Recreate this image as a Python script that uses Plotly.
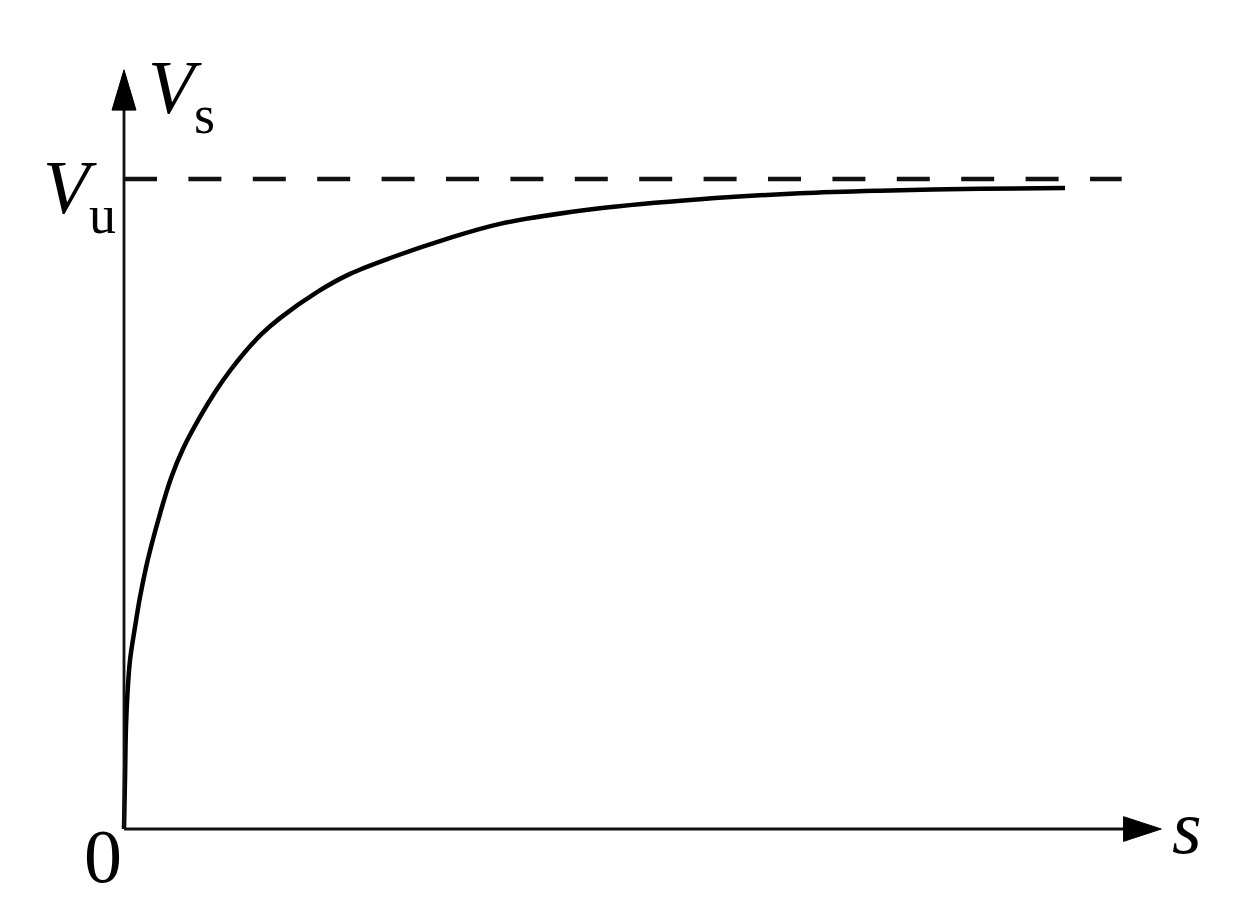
import plotly.graph_objects as go

# Curve V_s(s) (V in units of V_u)
s_values = [0, 0.011, 0.021, 0.037, 0.064, 0.117, 0.17, 0.233, 0.297, 0.382,
            0.499, 0.626, 0.806, 0.965, 1.124, 1.283, 1.463, 1.654, 2.047,
            2.397, 2.853, 3.383, 3.987, 5.048, 6.108, 7.169, 8.017, 9.077, 9.979]
v_values = [0, 0.08, 0.157, 0.209, 0.26, 0.311, 0.357, 0.402, 0.44, 0.485,
            0.54, 0.585, 0.634, 0.672, 0.705, 0.734, 0.762, 0.786, 0.826,
            0.854, 0.88, 0.906, 0.931, 0.955, 0.969, 0.978, 0.982, 0.985, 0.986]

# Asymptote
v_u = 1.0
asymptote_end = 10.58

# Axis extents (arrow tips)
x_axis_end = 11.0
y_axis_end = 1.168

SERIF = "Liberation Serif"
INK = "#111111"


def main():
    fig = go.Figure()

    # asymptote V_u
    fig.add_trace(
        go.Scatter(
            x=[0, asymptote_end],
            y=[v_u, v_u],
            mode="lines",
            line=dict(color=INK, width=4.5, dash="33px,31.4px"),
            hoverinfo="skip",
        )
    )

    # V_s curve
    fig.add_trace(
        go.Scatter(
            x=s_values,
            y=v_values,
            mode="lines",
            line=dict(color="black", width=4.5, shape="spline", smoothing=1.0),
            hoverinfo="skip",
        )
    )

    # axes with arrow heads (sizes in data units)
    ax_len, ax_half = 0.40, 0.019   # x arrow: length along s, half width in V
    ay_len, ay_half = 0.062, 0.127  # y arrow: length along V, half width in s
    axis_line = dict(color=INK, width=2.8)
    fig.add_shape(type="line", x0=0, y0=0, x1=x_axis_end - ax_len, y1=0, line=axis_line)
    fig.add_shape(type="line", x0=0, y0=0, x1=0, y1=y_axis_end - ay_len, line=axis_line)
    fig.add_shape(
        type="path",
        path=f"M {x_axis_end - ax_len},{-ax_half} L {x_axis_end},0 L {x_axis_end - ax_len},{ax_half} Z",
        fillcolor="black", line=dict(color="black", width=1),
    )
    fig.add_shape(
        type="path",
        path=f"M {-ay_half},{y_axis_end - ay_len} L 0,{y_axis_end} L {ay_half},{y_axis_end - ay_len} Z",
        fillcolor="black", line=dict(color="black", width=1),
    )

    # labels: main glyphs and subscripts placed separately
    big = dict(family=SERIF, size=76, color="black")
    small = dict(family=SERIF, size=54, color="black")

    def label(x, y, text, font, xanchor="left"):
        fig.add_annotation(x=x, y=y, text=text, showarrow=False,
                           xanchor=xanchor, yanchor="middle", font=font)

    label(0.233, 1.141, "<i>V</i>", big)
    label(0.725, 1.099, "s", small)
    label(-0.88, 0.987, "<i>V</i>", big)
    label(-0.39, 0.945, "u", small)
    label(-0.228, -0.042, "0", big, xanchor="center")
    label(11.27, 0.0025, "<i>s</i>", big, xanchor="center")

    # ranges chosen so the origin lands at (124, 829) on the page
    fig.update_layout(
        width=1249,
        height=920,
        margin=dict(l=0, r=0, t=0, b=0),
        paper_bgcolor="white",
        plot_bgcolor="white",
        showlegend=False,
        xaxis=dict(range=[-1.2301, 12.0149], visible=False, fixedrange=True),
        yaxis=dict(range=[-0.1523, 1.2631], visible=False, fixedrange=True),
    )

    fig.write_html("out.html")


if __name__ == "__main__":
    main()
